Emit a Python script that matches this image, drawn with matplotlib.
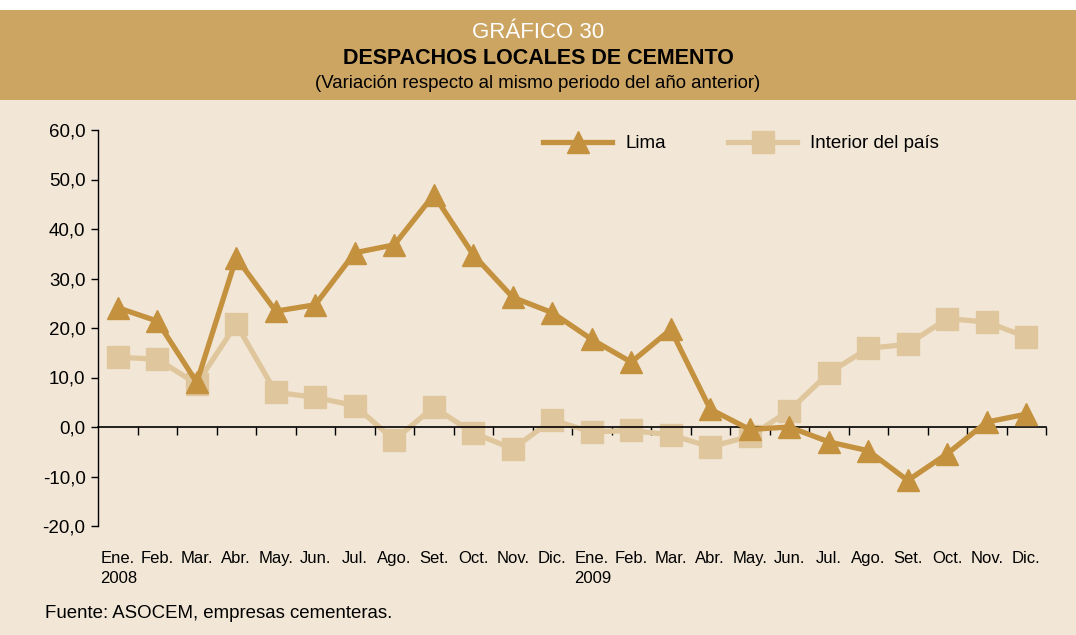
import numpy as np
import matplotlib.pyplot as plt
from matplotlib.patches import Rectangle

plt.rcParams['font.family'] = ['Liberation Sans', 'DejaVu Sans']

meses = ["Ene.", "Feb.", "Mar.", "Abr.", "May.", "Jun.", "Jul.", "Ago.", "Set.",
         "Oct.", "Nov.", "Dic."] * 2
anios = {0: "2008", 12: "2009"}

lima = [24.1, 21.4, 9.0, 34.2, 23.4, 24.7, 35.2, 36.8, 46.9, 34.8, 26.2, 23.1,
        17.7, 13.1, 19.7, 3.6, -0.5, 0.0, -3.0, -4.8, -10.8, -5.4, 1.0, 2.6]
interior = [14.1, 13.7, 8.7, 20.8, 7.0, 6.0, 4.3, -2.6, 4.0, -1.2, -4.4, 1.4,
            -1.0, -0.7, -1.6, -4.0, -1.9, 3.3, 10.9, 15.9, 16.7, 21.9, 21.2, 18.2]

c_lima = "#C4913F"
c_int = "#E0C69C"
c_fondo = "#F2E7D7"
c_cab = "#CCA563"

fig = plt.figure(figsize=(10.76, 6.35), dpi=100)
fig.patch.set_facecolor(c_fondo)
# franja blanca arriba + cabecera
fig.patches.append(Rectangle((0, 1 - 10/635.), 1, 10/635., transform=fig.transFigure,
                             facecolor="white", edgecolor="none", zorder=0))
fig.patches.append(Rectangle((0, 1 - 100/635.), 1, 90/635., transform=fig.transFigure,
                             facecolor=c_cab, edgecolor="none", zorder=0))
fig.text(0.5, 1 - 33/635., "GRÁFICO 30", color="white", fontsize=16, ha="center", va="center")
fig.text(0.5, 1 - 59/635., "DESPACHOS LOCALES DE CEMENTO", color="black", fontsize=15.5,
         fontweight="bold", ha="center", va="center")
fig.text(0.5, 1 - 83/635., "(Variación respecto al mismo periodo del año anterior)",
         color="black", fontsize=13.4, ha="center", va="center")
fig.text(45/1076., 1 - 614/635., "Fuente: ASOCEM, empresas cementeras.", fontsize=13.4,
         ha="left", va="center")

ax = fig.add_axes([98/1076., 1 - 526/635., 948/1076., 396/635.])
ax.set_facecolor(c_fondo)
x = np.arange(len(lima))
ax.plot(x, lima, color=c_lima, lw=3.8, marker="^", ms=16, label="Lima", zorder=3)
ax.plot(x, interior, color=c_int, lw=3.8, marker="s", ms=16, label="Interior del país", zorder=2)

ax.set_xlim(-0.5, len(lima) - 0.5)
ax.set_ylim(-20, 60)
ax.set_yticks(np.arange(-20, 61, 10))
ax.set_yticklabels([("%.1f" % v).replace(".", ",") for v in np.arange(-20, 61, 10)], fontsize=13.5)
ax.tick_params(axis="y", direction="out", length=5, width=1, pad=4)

ax.spines["top"].set_visible(False)
ax.spines["right"].set_visible(False)
ax.spines["bottom"].set_position(("data", 0))
ax.spines["left"].set_linewidth(1)
ax.spines["bottom"].set_linewidth(1.2)
ax.set_xticks(np.arange(0.5, len(lima), 1))
ax.set_xticklabels([])
ax.tick_params(axis="x", direction="out", length=6, width=1)

for i, m in enumerate(meses):
    ax.text(i, -26.5, m, ha="center", va="center", fontsize=12, clip_on=False)
    if i in anios:
        ax.text(i - 0.45, -30.7, anios[i], ha="left", va="center", fontsize=12, clip_on=False)

ax.legend(loc="upper left", bbox_to_anchor=(428/948., 1.03), ncol=2, frameon=False,
          fontsize=13.5, handlelength=3.7, handletextpad=0.7, columnspacing=3.3)

fig.savefig("out.png", dpi=100, facecolor=fig.get_facecolor())
